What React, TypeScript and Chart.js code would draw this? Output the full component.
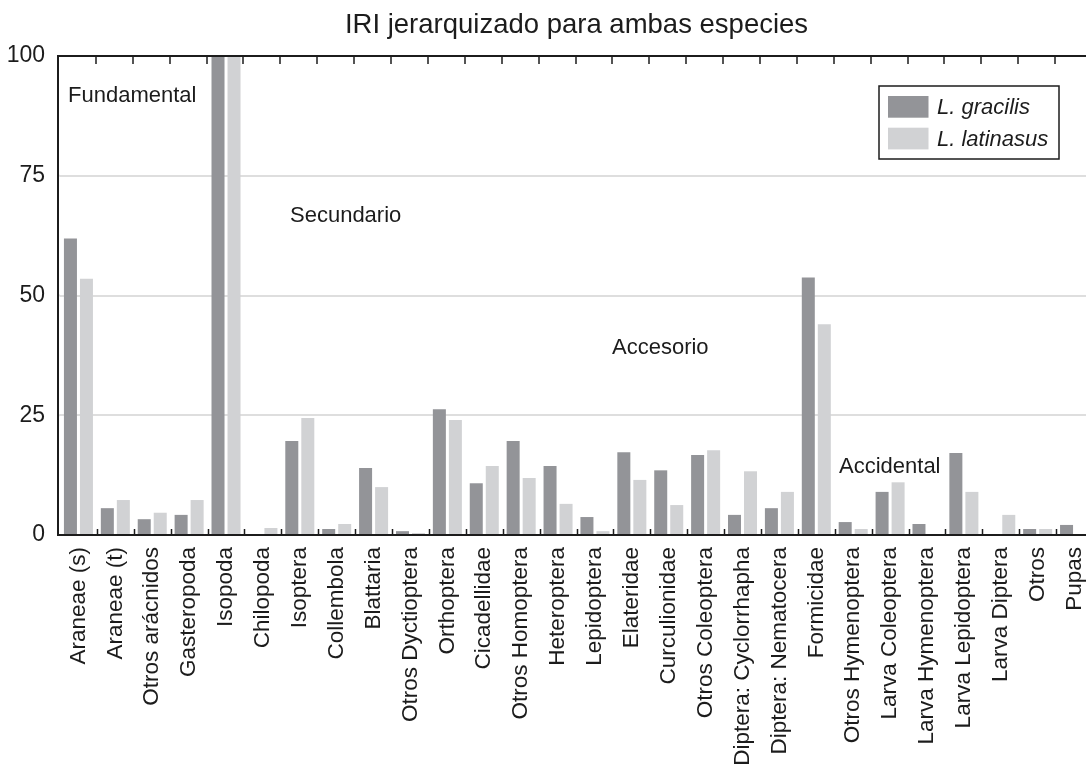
import React, { useEffect, useRef } from "react";
import { Chart, registerables } from "chart.js";

Chart.register(...registerables);

const categories = [
  "Araneae (s)", "Araneae (t)", "Otros arácnidos", "Gasteropoda", "Isopoda", "Chilopoda",
  "Isoptera", "Collembola", "Blattaria", "Otros Dyctioptera", "Orthoptera", "Cicadellidae",
  "Otros Homoptera", "Heteroptera", "Lepidoptera", "Elateridae", "Curculionidae",
  "Otros Coleoptera", "Diptera: Cyclorrhapha", "Diptera: Nematocera", "Formicidae",
  "Otros Hymenoptera", "Larva Coleoptera", "Larva Hymenoptera", "Larva Lepidoptera",
  "Larva Diptera", "Otros", "Pupas",
];

const gracilis = [
  61.9, 5.6, 3.3, 4.2, 100, 0, 19.6, 1.25, 14.0, 0.8, 26.25, 10.8, 19.6, 14.4, 3.75, 17.3,
  13.5, 16.7, 4.2, 5.6, 53.75, 2.7, 9.0, 2.3, 17.1, 0, 1.25, 2.1,
];

const latinasus = [
  53.5, 7.3, 4.65, 7.3, 100, 1.46, 24.4, 2.3, 10.0, 0.4, 24.0, 14.4, 11.9, 6.5, 0.8, 11.5,
  6.25, 17.7, 13.3, 9.0, 44.0, 1.25, 11.0, 0, 9.0, 4.2, 1.25, 0,
];

const seriesNames = ["L. gracilis", "L. latinasus"];
const seriesColors = ["#939498", "#d1d2d4"];
const yTickValues = [0, 25, 50, 75, 100];
const titleText = "IRI jerarquizado para ambas especies";
const zoneLabels = ["Fundamental", "Secundario", "Accesorio", "Accidental"];
const zoneLevels = [91.7, 66.7, 39, 14.2];

const FONT = "'Liberation Sans', Arial, Helvetica, sans-serif";
const INK = "#1c1c1c";

const AXIS_GAP = 2;
const zoneOffsets = [8, 230, 552, 779];

const overlayPlugin = {
  id: "overlay",
  afterDatasetsDraw(chart: any) {
    const { ctx, chartArea: ca, scales } = chart;
    const x = scales.x;
    const y = scales.y;
    const axisX = ca.left - AXIS_GAP;
    ctx.save();
    // light grid continuation in the gap next to the axis
    ctx.strokeStyle = "#dedede";
    ctx.lineWidth = 2;
    ctx.beginPath();
    [25, 50, 75].forEach((v) => {
      const py = y.getPixelForValue(v);
      ctx.moveTo(axisX, py);
      ctx.lineTo(ca.left, py);
    });
    ctx.stroke();
    // axis lines
    ctx.strokeStyle = INK;
    ctx.lineWidth = 2;
    ctx.beginPath();
    ctx.moveTo(axisX, ca.top);
    ctx.lineTo(ca.right, ca.top);
    ctx.moveTo(axisX, ca.bottom);
    ctx.lineTo(ca.right, ca.bottom);
    ctx.moveTo(axisX, ca.top - 1);
    ctx.lineTo(axisX, ca.bottom + 1);
    ctx.stroke();
    // inward tick marks at category boundaries
    const half = (x.getPixelForValue(1) - x.getPixelForValue(0)) / 2;
    ctx.lineWidth = 1.5;
    ctx.beginPath();
    for (let i = 0; i < categories.length; i++) {
      const bx = Math.round(x.getPixelForValue(i) + half) + 0.5;
      ctx.moveTo(bx - 1.5, ca.top);
      ctx.lineTo(bx - 1.5, ca.top + 8);
      ctx.moveTo(bx, ca.bottom);
      ctx.lineTo(bx, ca.bottom - 6);
    }
    ctx.stroke();

    // zone labels
    ctx.fillStyle = INK;
    ctx.font = `22px ${FONT}`;
    ctx.textAlign = "left";
    ctx.textBaseline = "middle";
    zoneLabels.forEach((t, i) => {
      ctx.fillText(t, ca.left + zoneOffsets[i], y.getPixelForValue(zoneLevels[i]));
    });

    // legend
    const bw = 180;
    const bh = 73;
    const bx = ca.left + 819;
    const by = ca.top + 30;
    ctx.fillStyle = "#ffffff";
    ctx.fillRect(bx, by, bw, bh);
    ctx.strokeStyle = INK;
    ctx.lineWidth = 1.5;
    ctx.strokeRect(bx, by, bw, bh);
    ctx.font = `italic 22px ${FONT}`;
    chart.data.datasets.forEach((ds: any, i: number) => {
      const sy = by + 10 + i * 31.7;
      ctx.fillStyle = ds.backgroundColor;
      ctx.fillRect(bx + 9, sy, 40.5, 21.7);
      ctx.fillStyle = INK;
      ctx.fillText(ds.label, bx + 58, sy + 12);
    });
    ctx.restore();
  },
};

export default function App() {
  const ref = useRef<HTMLCanvasElement>(null);

  useEffect(() => {
    document.body.style.margin = "0";
    const canvas = ref.current;
    if (!canvas) return;
    const chart = new Chart(canvas, {
      type: "bar",
      data: {
        labels: categories,
        datasets: [
          {
            label: seriesNames[0],
            data: gracilis,
            backgroundColor: seriesColors[0],
            borderWidth: 0,
            categoryPercentage: 0.868,
            barPercentage: 0.8125,
          },
          {
            label: seriesNames[1],
            data: latinasus,
            backgroundColor: seriesColors[1],
            borderWidth: 0,
            categoryPercentage: 0.868,
            barPercentage: 0.8125,
          },
        ],
      },
      options: {
        responsive: false,
        animation: false,
        devicePixelRatio: 1,
        layout: { padding: { left: 0, right: 0, top: 0, bottom: 0 } },
        plugins: {
          legend: { display: false },
          tooltip: { enabled: false },
          title: {
            display: true,
            text: titleText,
            fullSize: false,
            color: INK,
            font: { family: FONT, size: 27.5, weight: "normal" },
            padding: { top: 9, bottom: 14 },
          },
        },
        scales: {
          x: {
            grid: { display: false },
            border: { display: false },
            ticks: {
              autoSkip: false,
              minRotation: 90,
              maxRotation: 90,
              padding: 4,
              color: INK,
              font: { family: FONT, size: 22.5 },
            },
            afterFit: (scale: any) => {
              scale.height = 231;
              scale.paddingLeft = 0;
              scale.paddingRight = 0;
            },
          },
          y: {
            min: 0,
            max: 100,
            afterBuildTicks: (scale: any) => {
              scale.ticks = yTickValues.map((v) => ({ value: v }));
            },
            grid: { color: "#dedede", lineWidth: 2, drawTicks: false },
            border: { display: false },
            ticks: {
              padding: 15,
              color: INK,
              font: { family: FONT, size: 23 },
            },
            afterFit: (scale: any) => {
              scale.width = 60;
            },
          },
        },
      },
      plugins: [overlayPlugin],
    });
    return () => chart.destroy();
  }, []);

  return (
    <div style={{ width: 1086, height: 766, overflow: "hidden", position: "relative" }}>
      <canvas ref={ref} width={1093} height={766} style={{ display: "block" }} />
    </div>
  );
}
